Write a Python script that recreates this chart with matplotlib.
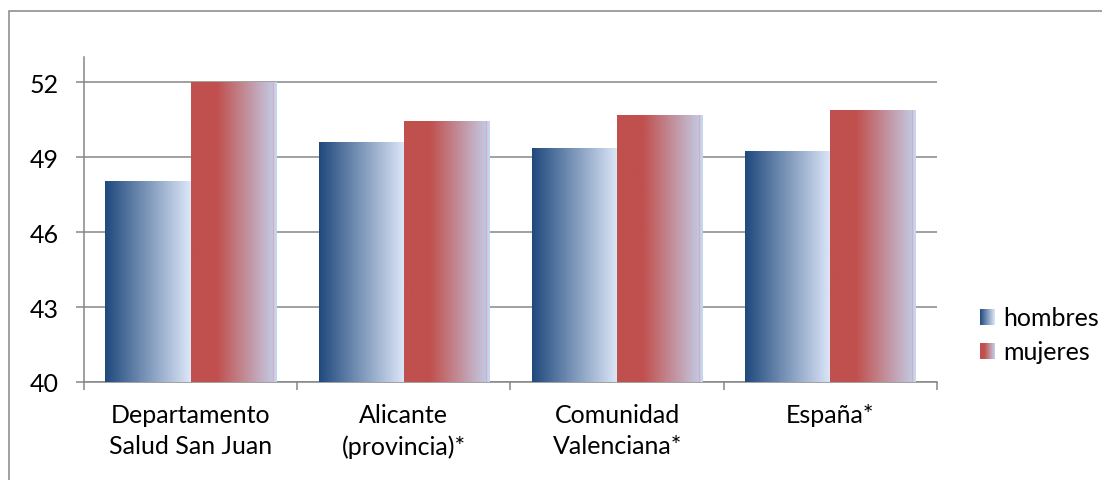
import matplotlib.pyplot as plt
import numpy as np
from matplotlib.patches import Rectangle

categories = ["Departamento\nSalud San Juan", "Alicante\n(provincia)*",
              "Comunidad\nValenciana*", "España*"]
hombres = [48.04, 49.6, 49.36, 49.2]
mujeres = [52.0, 50.44, 50.68, 50.88]
series_names = ["hombres", "mujeres"]
y_ticks = [40, 43, 46, 49, 52]

GRID = "#868686"
W, H = 1102, 481


def blue_gradient(n=200):
    t = np.linspace(0, 1, n)
    start = np.array([31, 73, 125]) / 255
    end = np.array([221, 231, 248]) / 255
    return start[None, :] + t[:, None] * (end - start)[None, :]


def red_gradient(n=200):
    t = np.linspace(0, 1, n)
    red = np.array([192, 80, 77]) / 255
    lav = np.array([196, 199, 224]) / 255
    pink = np.array([214, 160, 178]) / 255
    side = np.array([198, 213, 239]) / 255
    out = np.empty((n, 3))
    for i, v in enumerate(t):
        if v < 0.3:
            out[i] = red
        elif v < 0.955:
            f = (v - 0.3) / 0.655
            out[i] = red + f * (lav - red)
        elif v < 0.965:
            out[i] = pink
        else:
            out[i] = side
    return out


def fill_gradient(ax, patch, colors):
    x, y = patch.get_x(), patch.get_y()
    w, h = patch.get_width(), patch.get_height()
    ax.imshow(colors[None, :, :], extent=[x, x + w, y, y + h],
              aspect="auto", interpolation="bilinear", zorder=3)


plt.rcParams["font.family"] = ["Lato", "DejaVu Sans"]
fig = plt.figure(figsize=(W / 100, H / 100), dpi=100)

# outer chart frame (right/bottom edges run off the picture)
fig.patches.append(Rectangle((9 / W, -0.05), 1.1, 1 - 12 / H + 0.05,
                             transform=fig.transFigure, fill=False,
                             edgecolor=GRID, linewidth=1.1))

ax = fig.add_axes([84 / W, 1 - 383 / H, (937 - 84) / W, (383 - 58) / H])
x = np.arange(len(categories))
bw = 0.4
bars_h = ax.bar(x - bw / 2, hombres, bw, color="none", zorder=3)
bars_m = ax.bar(x + bw / 2, mujeres, bw, color="none", zorder=3)
for p in bars_h:
    fill_gradient(ax, p, blue_gradient())
for p in bars_m:
    fill_gradient(ax, p, red_gradient())

ax.set_xlim(-0.5, len(categories) - 0.5)
ax.set_ylim(40, 53)
ax.set_yticks(y_ticks)
ax.yaxis.grid(True, color=GRID, linewidth=1.1)
ax.set_axisbelow(True)
for s in ("top", "right"):
    ax.spines[s].set_visible(False)
for s in ("left", "bottom"):
    ax.spines[s].set_color(GRID)
    ax.spines[s].set_linewidth(1.1)

ax.set_xticks(np.arange(len(categories) + 1) - 0.5)
ax.set_xticklabels([])
ax.set_xticks(x, minor=True)
ax.set_xticklabels(categories, minor=True, fontsize=18, linespacing=1.45)
ax.tick_params(axis="x", which="minor", length=0, pad=15)
ax.tick_params(axis="x", which="major", length=6, width=1.1, color=GRID,
               direction="out")
ax.tick_params(axis="y", length=6, width=1.1, color=GRID, labelsize=18,
               pad=12)

# legend drawn by hand so the swatches can carry the gradients
for i, (name, cols) in enumerate(zip(series_names,
                                     [blue_gradient(), red_gradient()])):
    yc = 1 - (318 + 34 * i) / H
    sw = fig.add_axes([980 / W, yc - 8 / H, 15 / W, 16 / H])
    sw.imshow(cols[None, :, :], aspect="auto", interpolation="bilinear")
    sw.axis("off")
    fig.text(1003 / W, yc, name, fontsize=18, va="center", ha="left")

fig.savefig("out.png", dpi=100)
